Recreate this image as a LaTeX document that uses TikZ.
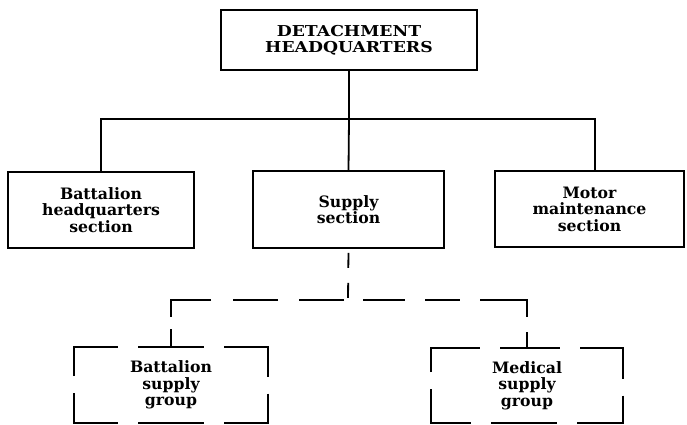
\documentclass[tikz,border=0pt]{standalone}
\usepackage{fontspec}
\setmainfont{DejaVu Serif}
\newfontfamily\widefont[FakeStretch=1.15]{DejaVu Serif}
\usetikzlibrary{calc}
\tikzset{
  unit/.style={draw=none, inner sep=0pt, align=center, font=\bfseries\fontsize{15.7}{16.5}\selectfont},
  solidbox/.style={unit, draw, line width=1.8pt},
  topbox/.style={solidbox, font=\widefont\bfseries\fontsize{15}{16}\selectfont},
  conn/.style={line width=1.8pt},
  dbox/.style={line width=1.8pt, dash pattern=on 33pt off 20pt on 74pt off 17pt on 74pt off 20pt on 66pt off 20pt on 74pt off 17pt on 74pt off 20pt on 33pt},
}
\begin{document}
\begin{tikzpicture}[x=1pt,y=-1pt]
\useasboundingbox (0,0) rectangle (687,425);
\node[topbox, minimum width=256pt, minimum height=60pt] (hq) at (349,40) {DETACHMENT\\HEADQUARTERS};
\node[solidbox, minimum width=186pt, minimum height=76pt] (bhs) at (101,210) {Battalion\\headquarters\\section};
\node[solidbox, minimum width=191pt, minimum height=77pt] (ss) at (348.5,209.5) {Supply\\section};
\node[solidbox, minimum width=189pt, minimum height=76pt] (mms) at (589.5,209) {Motor\\maintenance\\section};
\node[unit, minimum width=194pt, minimum height=76pt] (bsg) at (171,385) {Battalion\\supply\\group};
\node[unit, minimum width=192pt, minimum height=75pt] (msg) at (527,385.5) {Medical\\supply\\group};
% solid connectors
\coordinate (bus) at (349,119);
\coordinate (mmsin) at (595,171);
\draw[conn] (hq.south) -- (bus);
\draw[conn] (bhs.north) |- (bus) -| (mmsin);
\draw[conn] (bus) -- (ss.north);
% dashed connectors
\coordinate (dbus) at (348,300);
\draw[conn, dash pattern=on 15pt off 15pt, dash phase=26pt] (ss.south) -- (dbus);
\draw[conn, dash pattern=on 0pt off 4pt on 45pt off 21pt on 45pt off 22pt on 57pt off 12pt on 20pt] (dbus) -| (bsg.north);
\draw[conn, dash pattern=on 0pt off 15pt on 42pt off 20pt on 35pt off 20pt on 64pt off 15pt on 15pt] (dbus) -| (msg.north);
% dashed boxes
\draw[dbox] (bsg.north) -- (bsg.north east) -- (bsg.south east) -- (bsg.south west) -- (bsg.north west) -- cycle;
\draw[dbox] (msg.north) -- (msg.north east) -- (msg.south east) -- (msg.south west) -- (msg.north west) -- cycle;
\end{tikzpicture}
\end{document}
